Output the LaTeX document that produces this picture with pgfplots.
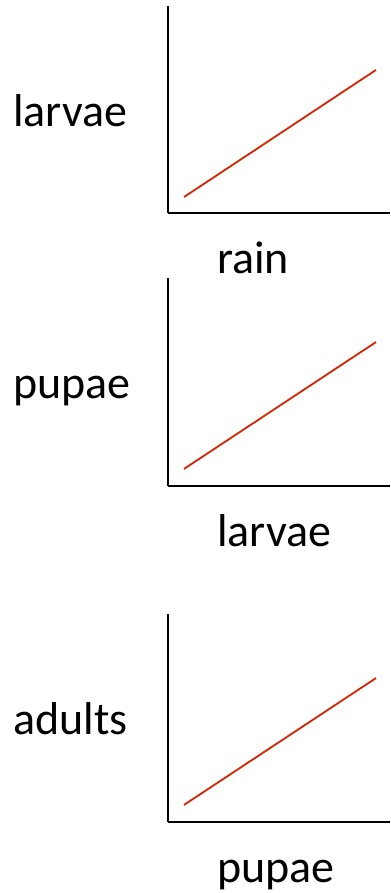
\documentclass[border=0pt]{standalone}
\usepackage{fontspec}
\setmainfont{Carlito}
\usepackage{pgfplots}
\pgfplotsset{compat=1.18}
\definecolor{linered}{RGB}{215,35,0}
\pgfplotsset{
  panel/.style={
    scale only axis, width=222bp,
    xmin=0, xmax=100, ymin=0, ymax=100,
    axis x line=bottom, axis y line=left,
    axis line style={-, line width=2.6bp, black},
    xtick=\empty, ytick=\empty,
    clip=false,
    every axis x label/.style={at={(axis description cs:0.221,-0.29)}, anchor=base west, inner sep=0pt,
      font=\fontsize{46bp}{55bp}\selectfont},
    every axis y label/.style={at={(axis description cs:-0.698,0.42)}, anchor=base west, inner sep=0pt,
      font=\fontsize{46bp}{55bp}\selectfont},
  },
  redline/.style={color=linered, line width=1.8bp, no markers},
}
\begin{document}
\begin{tikzpicture}[x=1bp,y=1bp]
\path[use as bounding box] (0,0) rectangle (390,893);
\begin{axis}[panel, at={(168bp,680bp)}, anchor=south west, height=207bp,
  xlabel={rain}, ylabel={larvae}]
\addplot[redline] coordinates {(7.2,7.7) (93.7,69.1)};
\end{axis}
\begin{axis}[panel, at={(168bp,407bp)}, anchor=south west, height=208bp,
  xlabel={larvae}, ylabel={pupae}]
\addplot[redline] coordinates {(7.2,8.2) (93.7,69.2)};
\end{axis}
\begin{axis}[panel, at={(168bp,71bp)}, anchor=south west, height=208bp,
  xlabel={pupae}, ylabel={adults}]
\addplot[redline] coordinates {(7.2,8.2) (93.7,69.2)};
\end{axis}
\end{tikzpicture}
\end{document}
